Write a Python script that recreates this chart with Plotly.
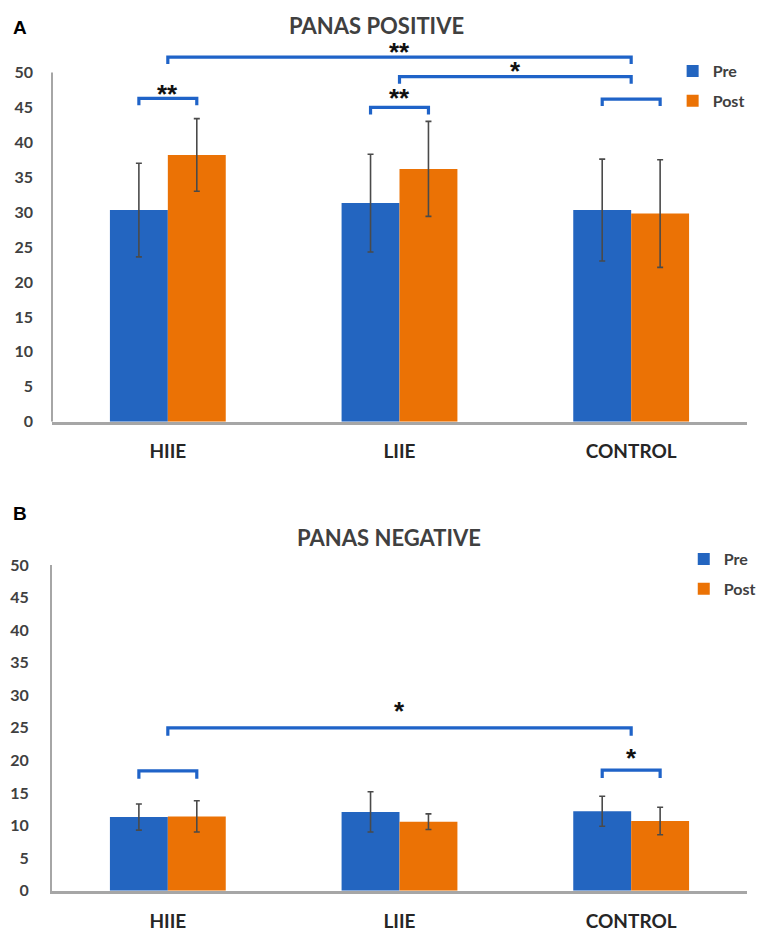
import plotly.graph_objects as go

# ---------------- data ----------------
categories = ["HIIE", "LIIE", "CONTROL"]
series_names = ["Pre", "Post"]

pos_pre = [30.3, 31.3, 30.3]
pos_post = [38.2, 36.2, 29.8]
pos_pre_err = [6.7, 7.0, 7.3]
pos_post_err = [5.2, 6.8, 7.7]

neg_pre = [11.3, 12.1, 12.2]
neg_post = [11.4, 10.6, 10.7]
neg_pre_err = [2.0, 3.1, 2.3]
neg_post_err = [2.4, 1.2, 2.1]

y_ticks = [0, 5, 10, 15, 20, 25, 30, 35, 40, 45, 50]

# significance brackets: (from category, from bar, to category, to bar, bracket y, label, label y)
pos_brackets = [
    ("HIIE", "Pre", "HIIE", "Post", 46.3, "**", 47.6),
    ("LIIE", "Pre", "LIIE", "Post", 45.0, "**", 47.1),
    ("CONTROL", "Pre", "CONTROL", "Post", 46.2, "", None),
    ("LIIE", "mid", "CONTROL", "mid", 49.4, "*", 51.0),
    ("HIIE", "mid", "CONTROL", "mid", 52.2, "**", 53.7),
]
neg_brackets = [
    ("HIIE", "Pre", "HIIE", "Post", 18.4, "", None),
    ("CONTROL", "Pre", "CONTROL", "Post", 18.5, "*", 21.2),
    ("HIIE", "mid", "CONTROL", "mid", 25.0, "*", 28.4),
]

# ---------------- style ----------------
BLUE = "#2365C0"
ORANGE = "#EB7205"
BRACKET = "#1F63C8"
AXIS = "#A6A6A6"
TXT = "#404040"
FONT = "Lato"
BAR_OFFSET = {"Pre": -0.125, "Post": 0.125, "mid": 0.0}

xidx = list(range(len(categories)))

fig = go.Figure()


def add_panel(pre, post, pre_err, post_err, xa, ya, legend):
    for name, vals, errs, col in [("Pre", pre, pre_err, BLUE), ("Post", post, post_err, ORANGE)]:
        fig.add_trace(go.Bar(
            x=xidx, y=vals, name=name, marker=dict(color=col, line=dict(width=0)),
            error_y=dict(type="data", array=errs, visible=True, color="#4a4a4a",
                         thickness=1.6, width=3),
            xaxis=xa, yaxis=ya, legend=legend, legendgroup=legend + name, showlegend=True,
        ))


def add_brackets(brackets, xa, ya, tip):
    for c0, b0, c1, b1, yv, label, ly in brackets:
        x0 = categories.index(c0) + BAR_OFFSET[b0]
        x1 = categories.index(c1) + BAR_OFFSET[b1]
        fig.add_trace(go.Scatter(
            x=[x0, x0, x1, x1], y=[yv - tip, yv, yv, yv - tip], mode="lines",
            line=dict(color=BRACKET, width=3.2), xaxis=xa, yaxis=ya,
            showlegend=False, hoverinfo="skip",
        ))
        if label:
            fig.add_annotation(
                x=(x0 + x1) / 2, y=ly, xref=xa, yref=ya,
                text=label, showarrow=False, yanchor="middle", yshift=-5,
                font=dict(family="Liberation Sans", size=26, color="#111111", weight="bold"),
            )


add_panel(pos_pre, pos_post, pos_pre_err, pos_post_err, "x", "y", "legend")
add_panel(neg_pre, neg_post, neg_pre_err, neg_post_err, "x2", "y2", "legend2")
add_brackets(pos_brackets, "x", "y", 1.0)
add_brackets(neg_brackets, "x2", "y2", 1.2)

H = 931
TOP_MAX = 56  # headroom above the 50 tick for the brackets
top_px0, top_px50 = 421.7, 72.5
top_px_top = top_px0 - (top_px0 - top_px50) * TOP_MAX / 50
top_dom = [1 - top_px0 / H, 1 - top_px_top / H]
bot_dom = [1 - 890.7 / H, 1 - 565.0 / H]

xaxis_common = dict(
    range=[-0.5, 2.5], tickvals=xidx, ticktext=categories, showline=True,
    linecolor=AXIS, linewidth=2.5, ticks="", showgrid=False, zeroline=False,
    tickfont=dict(family=FONT, size=19, color="#262626", weight="bold"),
    fixedrange=True, automargin=False,
)
yaxis_common = dict(
    tickvals=y_ticks, linecolor=AXIS, linewidth=2,
    ticks="", showgrid=False, zeroline=False,
    tickfont=dict(family=FONT, size=16, color=TXT, weight="bold"),
    ticklabelstandoff=18, automargin=False,
)

legend_common = dict(
    font=dict(family=FONT, size=16, color=TXT, weight="bold"),
    bgcolor="rgba(0,0,0,0)", xanchor="left", yanchor="top",
    itemwidth=30, tracegroupgap=6, traceorder="grouped",
)

fig.update_layout(
    width=761, height=931,
    margin=dict(l=52, r=14, t=0, b=0, autoexpand=False),
    paper_bgcolor="white", plot_bgcolor="white",
    barmode="group", bargap=0.5, bargroupgap=0,
    xaxis=dict(domain=[0, 1], anchor="y", ticklabelstandoff=11, **xaxis_common),
    yaxis=dict(domain=top_dom, anchor="x", range=[0, TOP_MAX], showline=False, **yaxis_common),
    xaxis2=dict(domain=[0, 1], anchor="y2", ticklabelstandoff=12, **xaxis_common),
    yaxis2=dict(domain=bot_dom, anchor="x2", range=[0, 50], showline=True, **yaxis_common),
    legend=dict(x=0.893, y=1 - 54 / H, **legend_common),
    legend2=dict(x=0.909, y=1 - 542 / H, **legend_common),
    showlegend=True,
)

# y axis line of the top panel only up to the 50 tick
fig.add_shape(type="line", xref="x domain", yref="y", x0=0, x1=0, y0=0, y1=y_ticks[-1],
              line=dict(color=AXIS, width=2), layer="above")

# titles and panel letters
fig.add_annotation(x=(376 - 52) / 695, y=1 - 25 / H, xref="paper", yref="paper",
                   text="PANAS POSITIVE", showarrow=False, xanchor="center", yanchor="middle",
                   font=dict(family=FONT, size=22, color=TXT, weight="bold"))
fig.add_annotation(x=(389 - 52) / 695, y=1 - 537 / H, xref="paper", yref="paper",
                   text="PANAS NEGATIVE", showarrow=False, xanchor="center", yanchor="middle",
                   font=dict(family=FONT, size=22, color=TXT, weight="bold"))
fig.add_annotation(x=(20 - 52) / 695, y=1 - 27 / H, xref="paper", yref="paper",
                   text="A", showarrow=False, xanchor="center", yanchor="middle",
                   font=dict(family="Liberation Sans", size=19, color="black", weight="bold"))
fig.add_annotation(x=(20 - 52) / 695, y=1 - 513 / H, xref="paper", yref="paper",
                   text="B", showarrow=False, xanchor="center", yanchor="middle",
                   font=dict(family="Liberation Sans", size=19, color="black", weight="bold"))

fig.write_html("out.html", config={"displayModeBar": False},
               post_script="document.body.style.margin='0';document.body.style.overflow='hidden';")
